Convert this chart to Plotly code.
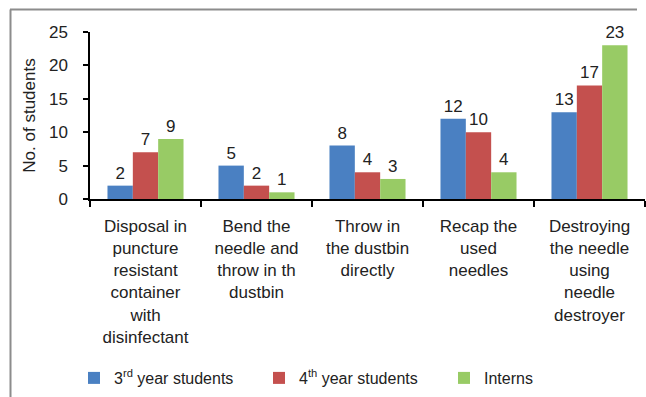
import plotly.graph_objects as go

categories = [
    "Disposal in<br>puncture<br>resistant<br>container<br>with<br>disinfectant",
    "Bend the<br>needle and<br>throw in th<br>dustbin",
    "Throw in<br>the dustbin<br>directly",
    "Recap the<br>used<br>needles",
    "Destroying<br>the needle<br>using<br>needle<br>destroyer",
]
series_names = ["3<sup>rd</sup> year students", "4<sup>th</sup> year students", "Interns"]
third_year = [2, 5, 8, 12, 13]
fourth_year = [7, 2, 4, 10, 17]
interns = [9, 1, 3, 4, 23]
colors = ["#4A80C2", "#C4504E", "#98CB65"]

W, H = 646, 397
L, R, T, B = 90, 1, 32, 198
pw = W - L - R
ph = H - T - B

def px_x(x):
    return (x - L) / pw

def px_y(y):
    return (H - B - y) / ph

fig = go.Figure()
for name, vals, col in zip(series_names, [third_year, fourth_year, interns], colors):
    fig.add_trace(go.Bar(
        x=categories, y=vals, name=name, marker=dict(color=col, line=dict(width=0)),
        text=[str(v) for v in vals], textposition="outside", cliponaxis=False,
        textfont=dict(size=17, color="#222222"),
    ))

font = "Liberation Sans, Arial, sans-serif"
fig.update_layout(
    width=W, height=H,
    margin=dict(l=L, r=R, t=T, b=B, autoexpand=False),
    paper_bgcolor="white", plot_bgcolor="white",
    font=dict(family=font, size=16, color="#222222"),
    barmode="group", bargap=0.315, bargroupgap=0,
    showlegend=True,
    legend=dict(orientation="h", x=px_x(74), xanchor="left", y=px_y(378), yanchor="middle",
                entrywidth=140, entrywidthmode="pixels", font=dict(size=16, color="#222222"),
                bgcolor="rgba(0,0,0,0)", traceorder="normal", itemclick=False),
    xaxis=dict(showline=True, linecolor="#000000", linewidth=1.5, ticks="outside", ticklen=6,
               tickcolor="#000000", tickwidth=1.5, tickson="boundaries", showgrid=False,
               tickfont=dict(size=17, color="#222222"), tickangle=0, automargin=False,
               ticklabelstandoff=11),
    yaxis=dict(range=[0, 25], dtick=5, showline=True, linecolor="#000000", linewidth=1.5,
               ticks="outside", ticklen=5, tickcolor="#000000", tickwidth=1.5, showgrid=False,
               zeroline=False, tickfont=dict(size=17, color="#222222"), automargin=False,
               ticklabelstandoff=12,
               title=dict(text="No. of students", font=dict(size=17, color="#222222"), standoff=9)),
)

border = "#8C8C8C"
fig.add_shape(type="line", xref="paper", yref="paper", x0=px_x(10), x1=px_x(637),
              y0=px_y(9.5), y1=px_y(9.5), line=dict(color=border, width=2))
fig.add_shape(type="line", xref="paper", yref="paper", x0=px_x(10.5), x1=px_x(10.5),
              y0=px_y(9.5), y1=px_y(400), line=dict(color=border, width=2))

fig.write_html("out.html")
